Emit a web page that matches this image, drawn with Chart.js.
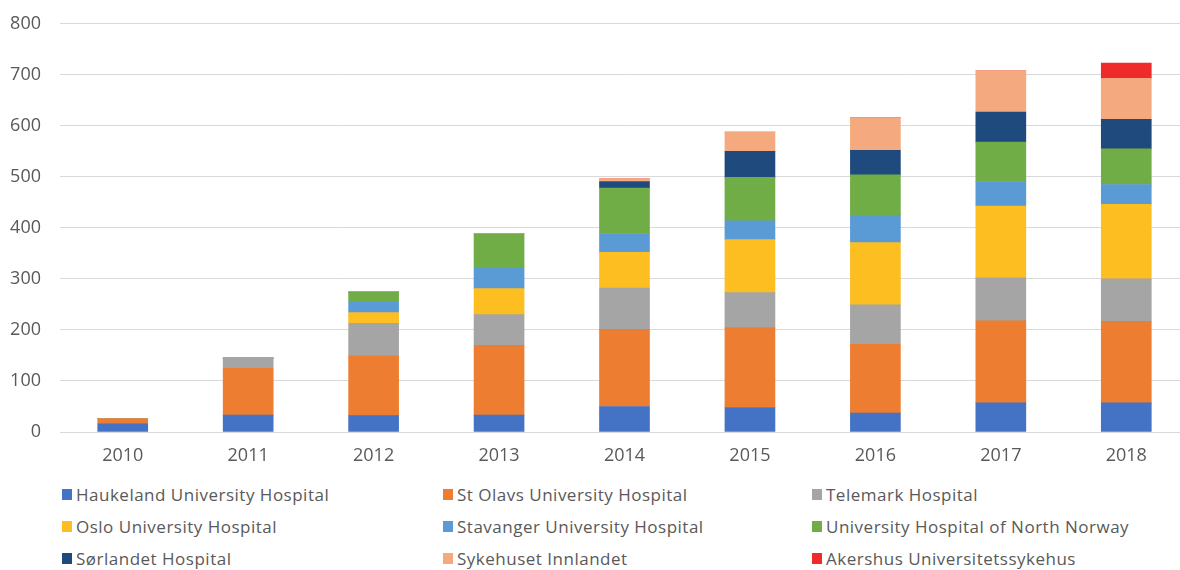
<!DOCTYPE html>
<html>
<head>
<meta charset="utf-8">
<script src="https://cdn.jsdelivr.net/npm/chart.js@4"></script>
<style>
  html, body { margin: 0; padding: 0; background: #fff; overflow: hidden; }
  #wrap { position: absolute; left: 0; top: -6px; width: 1189px; height: 478px; }
  #legend {
    position: absolute; left: 62px; top: 478px;
    display: grid; grid-template-columns: 381px 369px 360px; grid-auto-rows: 32px;
    font-family: "Open Sans", sans-serif; font-size: 17px; letter-spacing: 0.5px; color: #595959;
  }
  #legend div { display: flex; align-items: center; white-space: nowrap; }
  #legend span.box { display: inline-block; width: 10px; height: 11px; margin-right: 4px; }
</style>
</head>
<body>
<div id="wrap"><canvas id="hospChart"></canvas></div>
<div id="legend"></div>
<script>
// data
const years = ['2010', '2011', '2012', '2013', '2014', '2015', '2016', '2017', '2018'];
const haukeland = [16, 33, 32, 33, 50, 48, 37, 57, 57];
const stOlavs   = [10, 92, 118, 137, 151, 156, 135, 161, 160];
const telemark  = [0, 20, 63, 60, 81, 69, 77, 84, 83];
const oslo      = [0, 0, 21, 51, 70, 104, 122, 141, 146];
const stavanger = [0, 0, 20, 40, 37, 37, 53, 48, 39];
const northNorway = [0, 0, 20, 67, 89, 85, 80, 77, 70];
const sorlandet = [0, 0, 0, 0, 13, 51, 48, 59, 58];
const innlandet = [0, 0, 0, 0, 5, 38, 64, 81, 80];
const akershus  = [0, 0, 0, 0, 0, 0, 0, 0, 30];
const yTicks = [0, 100, 200, 300, 400, 500, 600, 700, 800];

const series = [
    { label: 'Haukeland University Hospital', data: haukeland, color: '#4472C4' },
    { label: 'St Olavs University Hospital', data: stOlavs, color: '#ED7D31' },
    { label: 'Telemark Hospital', data: telemark, color: '#A5A5A5' },
    { label: 'Oslo University Hospital', data: oslo, color: '#FDBE22' },
    { label: 'Stavanger University Hospital', data: stavanger, color: '#5B9BD5' },
    { label: 'University Hospital of North Norway', data: northNorway, color: '#70AD47' },
    { label: 'Sørlandet Hospital', data: sorlandet, color: '#1F4A7E' },
    { label: 'Sykehuset Innlandet', data: innlandet, color: '#F4AA7E' },
    { label: 'Akershus Universitetssykehus', data: akershus, color: '#EE2A2A' }
];

const ctx = document.getElementById('hospChart').getContext('2d');
const hospChart = new Chart(ctx, {
    type: 'bar',
    data: {
        labels: years,
        datasets: series.map(s => ({
            label: s.label,
            data: s.data,
            backgroundColor: s.color,
            borderWidth: 0,
            barThickness: 50
        }))
    },
    options: {
        responsive: true,
        maintainAspectRatio: false,
        animation: false,
        layout: { padding: { top: 17, left: 0, right: 0, bottom: 0 } },
        plugins: {
            legend: { display: false },
            tooltip: { enabled: false }
        },
        scales: {
            x: {
                stacked: true,
                grid: { display: false, drawTicks: false },
                border: { display: false },
                ticks: {
                    padding: 13,
                    color: '#595959',
                    font: { family: 'Open Sans', size: 18 }
                },
                afterFit: s => { s.height = 40; }
            },
            y: {
                stacked: true,
                min: 0,
                max: 800,
                afterBuildTicks: s => { s.ticks = yTicks.map(v => ({ value: v })); },
                grid: { color: '#D9D9D9', lineWidth: 1, drawTicks: false },
                border: { display: false },
                ticks: {
                    padding: 19,
                    color: '#595959',
                    font: { family: 'Open Sans', size: 18 }
                },
                afterFit: s => { s.width = 60; }
            }
        }
    }
});

// legend as a 3-column grid
const legendEl = document.getElementById('legend');
series.forEach(s => {
    const item = document.createElement('div');
    item.innerHTML = '<span class="box" style="background:' + s.color + '"></span>' + s.label;
    legendEl.appendChild(item);
});
</script>
</body>
</html>
